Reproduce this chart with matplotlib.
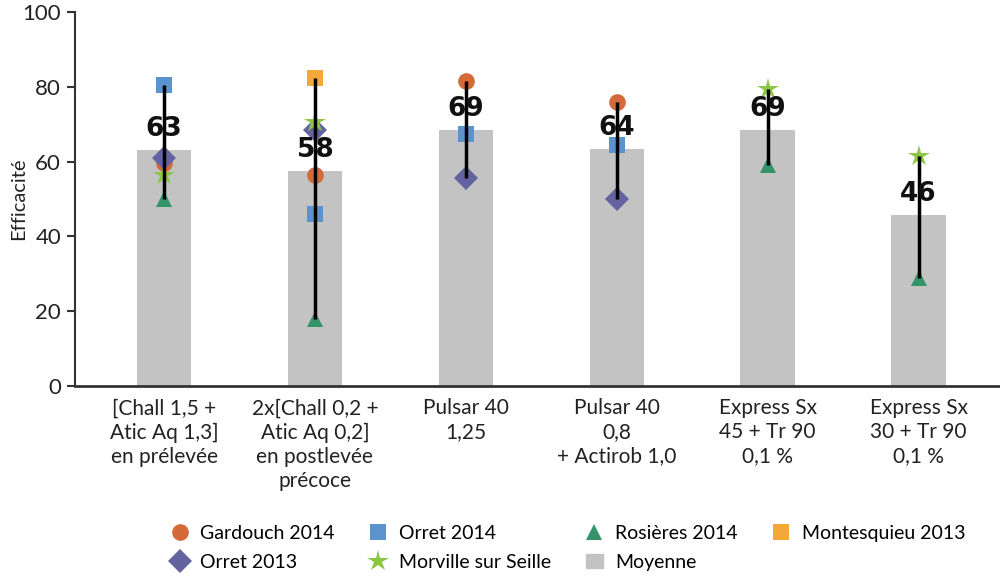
import numpy as np
import matplotlib
matplotlib.use("Agg")
import matplotlib.pyplot as plt
from matplotlib.lines import Line2D
from matplotlib.patches import Patch

plt.rcParams['font.family'] = ['Lato', 'DejaVu Sans']

nan = np.nan

# traitements
categories = [
    "[Chall 1,5 +\nAtic Aq 1,3]\nen prélevée",
    "2x[Chall 0,2 +\nAtic Aq 0,2]\nen postlevée\nprécoce",
    "Pulsar 40\n1,25",
    "Pulsar 40\n0,8\n+ Actirob 1,0",
    "Express Sx\n45 + Tr 90\n0,1 %",
    "Express Sx\n30 + Tr 90\n0,1 %",
]

# moyennes (barres) et étiquettes
moyenne = [63, 57.5, 68.5, 63.5, 68.5, 45.8]
moyenne_labels = ["63", "58", "69", "64", "69", "46"]

# essais
gardouch_2014 = [59.5, 56.5, 81.5, 76, nan, nan]
orret_2014 = [80.5, 46, 67.5, 64.5, nan, nan]
rosieres_2014 = [50, 18, nan, nan, 59, 29]
montesquieu_2013 = [nan, 82.5, nan, nan, nan, nan]
orret_2013 = [61, 68.5, 55.5, 50, nan, nan]
morville = [56.5, 70.5, nan, nan, 79.5, 61.5]

series = [
    ("Gardouch 2014", gardouch_2014, "o", "#D4693A", 12),
    ("Orret 2014", orret_2014, "s", "#5B93CF", 12),
    ("Rosières 2014", rosieres_2014, "^", "#35936A", 12),
    ("Montesquieu 2013", montesquieu_2013, "s", "#F4A83A", 12),
    ("Orret 2013", orret_2013, "D", "#63649F", 12),
    ("Morville sur Seille", morville, "*", "#8DC645", 16),
]

x = np.arange(len(categories))

fig = plt.figure(figsize=(10, 5.76), dpi=100)
ax = fig.add_axes([0.075, 0.33, 0.925, 0.649])

ax.bar(x, moyenne, width=0.36, color="#C3C3C3", zorder=1)

handles = {}
for name, vals, mk, col, ms in series:
    v = np.array(vals, dtype=float)
    ax.plot(x, v, linestyle="none", marker=mk, color=col, markersize=ms,
            markeredgewidth=0, zorder=3)
    handles[name] = Line2D([], [], linestyle="none", marker=mk, color=col,
                           markersize=ms, markeredgewidth=0)

# lignes min - max
allv = np.array([s[1] for s in series], dtype=float)
lo = np.nanmin(allv, axis=0)
hi = np.nanmax(allv, axis=0)
ax.vlines(x, lo, hi, color="black", linewidth=2.5, zorder=4)

for xi, m, lab in zip(x, moyenne, moyenne_labels):
    ax.text(xi, m + 5.6, lab, ha="center", va="center", fontsize=19,
            fontweight="bold", family=["DejaVu Sans"],
            color="#111111", zorder=5)

ax.set_xlim(-0.59, 5.54)
ax.set_ylim(0, 100)
ax.set_yticks([0, 20, 40, 60, 80, 100])
ax.tick_params(axis="y", labelsize=16, length=6, width=1.5, color="#333333",
               labelcolor="#222222", pad=4)
ax.set_xticks(x)
ax.set_xticklabels(categories, fontsize=15, linespacing=1.25, color="#222222")
ax.tick_params(axis="x", length=0, pad=9)
ax.set_ylabel("Efficacité", fontsize=14.5, color="#222222")
ax.yaxis.set_label_coords(-0.052, 0.5)

for s in ["top", "right"]:
    ax.spines[s].set_visible(False)
ax.spines["left"].set_color("#333333")
ax.spines["left"].set_linewidth(1.5)
ax.spines["bottom"].set_color("#333333")
ax.spines["bottom"].set_linewidth(2)

order = ["Gardouch 2014", "Orret 2013", "Orret 2014", "Morville sur Seille",
         "Rosières 2014", "Moyenne", "Montesquieu 2013"]
handles["Moyenne"] = Patch(color="#C3C3C3")
fig.legend([handles[n] for n in order], order, ncol=4, frameon=False,
           loc="upper left", bbox_to_anchor=(0.163, 0.102, 0.0, 0.0),
           bbox_transform=fig.transFigure, fontsize=14, handlelength=0.9,
           handletextpad=0.6, columnspacing=1.8, labelspacing=0.6,
           borderaxespad=0)

fig.savefig("out.png", dpi=100)
